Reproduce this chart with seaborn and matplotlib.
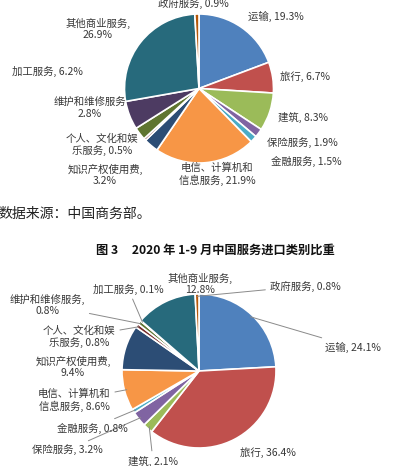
import numpy as np
import matplotlib.pyplot as plt
import seaborn as sns

# ── data: share of each service category (%) ─────────────────────
categories = ["运输", "旅行", "建筑", "保险服务", "金融服务",
              "电信、计算机和信息服务", "知识产权使用费", "个人、文化和娱乐服务",
              "维护和维修服务", "加工服务", "其他商业服务", "政府服务"]
export_share = [19.3, 6.7, 8.3, 1.9, 1.5, 21.9, 3.2, 0.5, 2.8, 6.2, 26.9, 0.9]
import_share = [24.1, 36.4, 2.1, 3.2, 0.8, 8.6, 9.4, 0.8, 0.8, 0.1, 12.8, 0.8]

source_note = "数据来源：中国商务部。"
fig3_title = "图 3     2020 年 1-9 月中国服务进口类别比重"

# ── style ────────────────────────────────────────────────────────
sns.set_theme(style="white")
plt.rcParams["font.family"] = ["Noto Sans CJK SC", "DejaVu Sans"]

BG = "#CAEACB"
TXT = "#383838"
LINE = "#8A8A8A"
palette = sns.color_palette(["#4F81BD", "#C0504D", "#9BBB59", "#8064A2", "#4BACC6",
                             "#F79646", "#2C4D75", "#772C2A", "#5F7530", "#4D3B62",
                             "#276A7C", "#B65708"])

WRAP = {"电信、计算机和信息服务": "电信、计算机和\n信息服务",
        "个人、文化和娱乐服务": "个人、文化和娱\n乐服务"}

# label layout: pixel position, alignment, template, leader line
top_layout = {
    "运输":   (248, 16, "left", "{n}, {v}%", False),
    "旅行":   (280, 77, "left", "{n}, {v}%", False),
    "建筑":   (278, 117, "left", "{n}, {v}%", False),
    "保险服务": (267, 143, "left", "{n}, {v}%", False),
    "金融服务": (271, 161, "left", "{n}, {v}%", False),
    "电信、计算机和信息服务": (217, 174, "center", "{n}, {v}%", False),
    "知识产权使用费": (105, 175, "center", "{n},\n{v}%", False),
    "个人、文化和娱乐服务": (102, 145, "center", "{n}, {v}%", False),
    "维护和维修服务": (90, 108, "center", "{n}\n{v}%", False),
    "加工服务": (12, 71, "left", "{n}, {v}%", False),
    "其他商业服务": (98, 29, "center", "{n},\n{v}%", False),
    "政府服务": (193, 3, "center", "{n}, {v}%", False),
}
bottom_layout = {
    "运输":   (325, 347, "left", "{n}, {v}%", True),
    "旅行":   (240, 453, "left", "{n}, {v}%", False),
    "建筑":   (128, 461, "left", "{n}, {v}%", True),
    "保险服务": (32, 450, "left", "{n}, {v}%", True),
    "金融服务": (57, 428, "left", "{n}, {v}%", True),
    "电信、计算机和信息服务": (74, 400, "center", "{n}, {v}%", True),
    "知识产权使用费": (73, 367, "center", "{n},\n{v}%", False),
    "个人、文化和娱乐服务": (79, 337, "center", "{n}, {v}%", True),
    "维护和维修服务": (47, 305, "center", "{n},\n{v}%", True),
    "加工服务": (93, 289, "left", "{n}, {v}%", True),
    "其他商业服务": (200, 284, "center", "{n},\n{v}%", False),
    "政府服务": (270, 286, "left", "{n}, {v}%", True),
}

W, H = 400, 466
fig = plt.figure(figsize=(W / 100, H / 100), dpi=100, facecolor="white")


def draw_pie(values, layout, top, bottom, cx, cy, r):
    ax = fig.add_axes([0, 1 - bottom / H, 1, (bottom - top) / H])
    ax.set_facecolor(BG)
    wedges, _ = ax.pie(values, colors=palette, startangle=90, counterclock=False,
                       wedgeprops=dict(edgecolor="white", linewidth=1.2))
    ax.set_aspect("auto")
    ax.set_xlim(-cx / r, (W - cx) / r)
    ax.set_ylim((cy - bottom) / r, (cy - top) / r)
    ax.set_xticks([]); ax.set_yticks([])
    for s in ax.spines.values():
        s.set_visible(False)

    for w, name, v in zip(wedges, categories, values):
        px, py, ha, tmpl, leader = layout[name]
        txt = tmpl.format(n=WRAP.get(name, name), v=v)
        pos = ((px - cx) / r, (cy - py) / r)
        mid = np.deg2rad((w.theta1 + w.theta2) / 2)
        edge = (0.97 * np.cos(mid), 0.97 * np.sin(mid))
        kw = dict(ha=ha, va="center", fontsize=7.5, color=TXT,
                  multialignment="center", zorder=5, annotation_clip=False)
        if leader:
            kw["arrowprops"] = dict(arrowstyle="-", color=LINE, lw=0.7,
                                    shrinkA=1, shrinkB=0)
        ax.annotate(txt, xy=edge, xytext=pos, textcoords="data", **kw)
    return ax


draw_pie(export_share, top_layout, 0, 189, 199, 88.5, 74.5)
draw_pie(import_share, bottom_layout, 267, 466, 199, 371, 77)

fig.text(-2 / W, 1 - 214 / H, source_note, ha="left", va="center",
         fontsize=10, color="#222222")
fig.text(215 / W, 1 - 250 / H, fig3_title, ha="center", va="center",
         fontsize=8.8, fontweight="bold", color="#111111")

fig.savefig("out.png", dpi=100, facecolor="white")
